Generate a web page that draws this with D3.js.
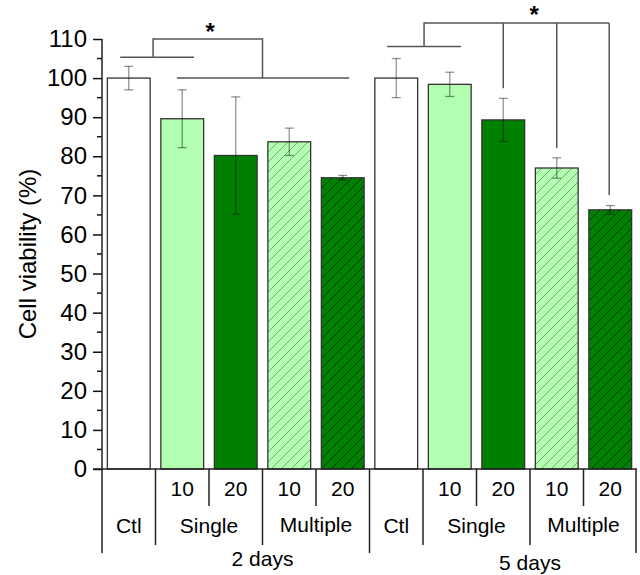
<!DOCTYPE html>
<html><head><meta charset="utf-8">
<script src="https://cdn.jsdelivr.net/npm/d3@7"></script>
<style>body{margin:0;background:#fff}svg{display:block;font-family:"Liberation Sans",Arial,sans-serif}</style>
</head><body><svg id="c" width="640" height="575"></svg>
<script>
// ---- data ----
const days = ["2 days", "5 days"];
const groups = ["Ctl", "Single", "Multiple"];
const doses = ["", "10", "20", "10", "20"];
const groupOfBar = ["Ctl", "Single", "Single", "Multiple", "Multiple"];
const barKind = ["ctl", "light", "dark", "lightHatch", "darkHatch"];
const means2d = [100, 89.6, 80.2, 83.7, 74.5];
const errs2d  = [3.0, 7.4, 15.0, 3.5, 0.6];
const means5d = [100, 98.4, 89.3, 77.0, 66.3];
const errs5d  = [5.0, 3.1, 5.5, 2.6, 1.1];
const yTicks = [0, 10, 20, 30, 40, 50, 60, 70, 80, 90, 100, 110];
const yLabel = "Cell viability (%)";

const bars = [];
days.forEach((d, di) => {
  const m = di === 0 ? means2d : means5d, e = di === 0 ? errs2d : errs5d;
  m.forEach((v, i) => bars.push({id: di * 5 + i, day: d, di, i, dose: doses[i], group: groupOfBar[i], kind: barKind[i], v, e: e[i]}));
});

const svg = d3.select("#c");
const x0 = 102, x1 = 637, yBottom = 469, yTop = 39;
const x = d3.scaleBand().domain(bars.map(b => b.id)).range([x0, x1]).paddingInner(0.2).paddingOuter(0.1);
const step = x.step();
const y = d3.scaleLinear().domain([0, 110]).range([yBottom, yTop]);
const ux = u => x0 + u * step; // position in band-step units

// patterns
const defs = svg.append("defs");
function hatch(id, bg, line) {
  const p = defs.append("pattern").attr("id", id).attr("patternUnits", "userSpaceOnUse").attr("width", 10).attr("height", 10);
  p.append("rect").attr("width", 10).attr("height", 10).attr("fill", bg);
  p.append("path").attr("d", "M-1,11 L11,-1 M-6,6 L6,-6 M4,16 L16,4").attr("stroke", line).attr("stroke-width", 1);
}
hatch("hl", "#b2ffb2", "#7fa67f");
hatch("hd", "#008000", "#003a00");
const fills = {ctl: "#ffffff", light: "#b2ffb2", dark: "#008000", lightHatch: "url(#hl)", darkHatch: "url(#hd)"};

// y axis
const yAxis = d3.axisLeft(y).tickValues(yTicks).tickSize(9).tickPadding(6);
const ga = svg.append("g").attr("transform", `translate(${x0},0)`).call(yAxis);
ga.select(".domain").remove();
ga.selectAll(".tick line").attr("stroke", "#111").attr("stroke-width", 1.5);
ga.selectAll(".tick text").attr("font-size", 24).attr("fill", "#000").attr("font-family", "Liberation Sans, Arial, sans-serif");
const minor = d3.range(5, 110, 10);
svg.append("g").selectAll("line").data(minor).join("line")
  .attr("x1", x0 - 5).attr("x2", x0).attr("y1", d => y(d)).attr("y2", d => y(d))
  .attr("stroke", "#111").attr("stroke-width", 1.5);

// bars
svg.append("g").selectAll("rect").data(bars).join("rect")
  .attr("x", d => x(d.id)).attr("width", x.bandwidth())
  .attr("y", d => y(d.v)).attr("height", d => y(0) - y(d.v))
  .attr("fill", d => fills[d.kind]).attr("stroke", "#333").attr("stroke-width", 1.3);

// error bars
const eg = svg.append("g").attr("stroke", "#000").attr("stroke-opacity", 0.42).attr("stroke-width", 1.3);
bars.forEach(d => {
  const cx = x(d.id) + x.bandwidth() / 2;
  eg.append("line").attr("x1", cx).attr("x2", cx).attr("y1", y(d.v + d.e)).attr("y2", y(d.v - d.e));
  eg.append("line").attr("x1", cx - 4.5).attr("x2", cx + 4.5).attr("y1", y(d.v + d.e)).attr("y2", y(d.v + d.e));
  eg.append("line").attr("x1", cx - 4.5).attr("x2", cx + 4.5).attr("y1", y(d.v - d.e)).attr("y2", y(d.v - d.e));
});

// significance brackets
const bg = svg.append("g").attr("stroke", "#555").attr("stroke-width", 1.5).attr("fill", "none");
const sig2 = [
  [[0.34, 105.3], [1.72, 105.3]],
  [[0.955, 105.3], [0.955, 110], [3.0, 110], [3.0, 100]],
  [[1.4, 100], [4.62, 100]]
];
const sig5 = [
  [[5.33, 108.1], [6.71, 108.1]],
  [[6.02, 108.1], [6.02, 114.1], [9.48, 114.1]],
  [[7.5, 114.1], [7.5, 97.4]],
  [[8.5, 114.1], [8.5, 82.1]],
  [[9.48, 114.1], [9.48, 70.1]]
];
const line = d3.line().x(p => ux(p[0])).y(p => y(p[1]));
[...sig2, ...sig5].forEach(s => bg.append("path").attr("d", line(s)));
svg.append("text").attr("x", ux(2.02)).attr("y", y(110) + 0.5).attr("text-anchor", "middle")
  .attr("font-size", 24).attr("font-weight", "bold").text("*");
svg.append("text").attr("x", ux(8.08)).attr("y", y(114.1) + 0.5).attr("text-anchor", "middle")
  .attr("font-size", 24).attr("font-weight", "bold").text("*");

// y title
svg.append("text").attr("transform", `translate(36,${(yTop + yBottom) / 2}) rotate(-90)`)
  .attr("text-anchor", "middle").attr("font-size", 24).text(yLabel);

// axis lines
const tg = svg.append("g").attr("stroke", "#222").attr("stroke-width", 1.5);
tg.append("line").attr("x1", x0).attr("x2", x0).attr("y1", yTop).attr("y2", 553);
tg.append("line").attr("x1", x0 - 9).attr("x2", x1).attr("y1", yBottom).attr("y2", yBottom);

// table separators
days.forEach((d, di) => {
  const base = di * 5;
  const L = ux(base), R = ux(base + 5);
  if (di > 0) tg.append("line").attr("x1", L).attr("x2", L).attr("y1", yBottom).attr("y2", 553);
  if (di === days.length - 1) tg.append("line").attr("x1", R - 1).attr("x2", R - 1).attr("y1", yBottom).attr("y2", 553);
  [1, 3].forEach(k => tg.append("line").attr("x1", ux(base + k)).attr("x2", ux(base + k)).attr("y1", yBottom).attr("y2", 545));
  [2, 4].forEach(k => tg.append("line").attr("x1", ux(base + k)).attr("x2", ux(base + k)).attr("y1", yBottom).attr("y2", 506));
});

// table labels
const lg = svg.append("g").attr("font-size", 21).attr("text-anchor", "middle").attr("fill", "#000");
bars.filter(b => b.dose).forEach(b => lg.append("text").attr("x", x(b.id) + x.bandwidth() / 2).attr("y", 496).text(b.dose));
days.forEach((d, di) => {
  const base = di * 5;
  lg.append("text").attr("x", ux(base + 0.5)).attr("y", 533).text(groups[0]);
  lg.append("text").attr("x", ux(base + 2)).attr("y", 533).text(groups[1]);
  lg.append("text").attr("x", ux(base + 4)).attr("y", 532).text(groups[2]);
  lg.append("text").attr("x", ux(base + 3)).attr("y", di === 0 ? 566 : 570).text(d);
});
</script></body></html>
